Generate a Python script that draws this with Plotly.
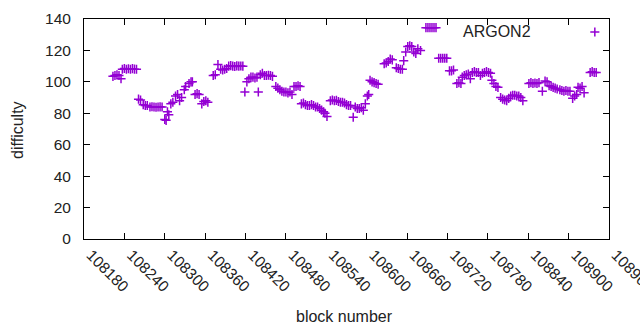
import plotly.graph_objects as go

# block numbers and difficulty values
blocks = [
    108223, 108226, 108229, 108232, 108235,
    108237, 108240, 108243, 108246, 108249, 108252, 108255, 108258,
    108261, 108264,
    108268, 108271, 108274,
    108278, 108281, 108284, 108287, 108290, 108293, 108296,
    108300, 108302, 108304, 108306,
    108309, 108312,
    108316, 108319, 108322, 108325,
    108329, 108331,
    108336, 108339, 108341,
    108345, 108348, 108351,
    108355, 108358, 108361, 108364,
    108372, 108375, 108379,
    108383, 108386, 108389, 108392,
    108395, 108398, 108401, 108404, 108407, 108410, 108413, 108416,
    108419,
    108422, 108425, 108428, 108431, 108434, 108437,
    108439,
    108442, 108445, 108448, 108451, 108454, 108457, 108460,
    108465, 108468, 108471, 108474, 108477, 108480, 108483, 108486, 108489,
    108492, 108495, 108498, 108501,
    108503, 108506, 108509, 108512, 108515, 108518, 108521, 108524, 108527,
    108530, 108533, 108536, 108538, 108541,
    108546, 108549, 108552, 108555, 108558,
    108561, 108564, 108567, 108570, 108573, 108576,
    108580,
    108583, 108586, 108589, 108592, 108595,
    108598, 108601, 108603,
    108605, 108608, 108611, 108614, 108617,
    108626, 108629, 108632, 108635, 108638,
    108644, 108647, 108650, 108653,
    108655,
    108658, 108661, 108664, 108667, 108670, 108673, 108676, 108680,
    108688, 108691, 108694, 108697, 108700, 108703,
    108707, 108710, 108713, 108716, 108719,
    108723, 108726, 108729,
    108734, 108737, 108740,
    108742, 108745, 108748, 108751, 108754,
    108757, 108760, 108763, 108766, 108769, 108772, 108775, 108778, 108781, 108784,
    108786, 108789, 108792, 108795,
    108799, 108802, 108805, 108808, 108811,
    108814, 108817, 108820, 108823, 108826, 108829, 108832,
    108841, 108844, 108847, 108850, 108853, 108856,
    108861,
    108865, 108868,
    108871, 108874, 108877, 108880, 108883,
    108887, 108890, 108893, 108896, 108899, 108902,
    108906, 108909, 108912,
    108914, 108917, 108920,
    108923,
    108932, 108935, 108938, 108941,
]
difficulty = [
    103.5, 104, 104.5, 104, 102,
    108, 108.5, 108, 108.3, 108, 108.4, 108.1, 108,
    89, 88.5,
    85.5, 85, 85,
    84, 84.2, 84, 83.8, 84, 84.1, 84,
    76, 75.5, 81, 79,
    86, 87,
    91, 92, 88, 90,
    95, 97,
    99, 100, 100,
    92, 92.5, 92,
    86, 87.5, 88, 87,
    104, 104.5, 111,
    108, 107.5, 108, 108.5,
    110, 110.3, 110, 109.8, 110.2, 110, 110.1, 110,
    93.5,
    100, 102, 103, 103, 102.5, 103,
    93.5,
    104.5, 105.5, 104, 104, 104.2, 104, 103.5,
    97, 96, 95, 94, 93.5, 93.5, 93, 93.5, 92,
    97, 97, 97.5, 97,
    86, 86.5, 85.5, 85, 85, 85.5, 85, 84, 84,
    83, 82, 81, 80, 78,
    88, 88.5, 88, 88.2, 87.5,
    87, 87, 86.5, 85.5, 85, 85,
    77.5,
    84, 83, 83, 83.5, 82,
    86, 91, 92,
    101, 100, 99.5, 99, 98.5,
    111.5, 112, 113, 114.5, 114,
    109, 108.5, 108, 108,
    113.5,
    119, 122.5, 123, 122.5, 119, 118, 121, 120,
    134.5, 134.5, 134.5, 134.5, 134.5, 134.5,
    115, 115, 115, 115, 115,
    107, 107, 107.5,
    99, 99.5, 99,
    103, 104, 104.5, 105, 102,
    106, 106.5, 106, 106, 104, 105.5, 106, 106.5, 106, 105.5,
    101, 99, 97, 96.5,
    90, 89, 88.5, 88, 89.5,
    91, 91.5, 91.5, 91, 91, 90, 88,
    99, 99.5, 99, 99.3, 99, 99.5,
    94,
    100.5, 100,
    97.5, 97, 96.5, 96, 95.5,
    95, 94.5, 94, 94.5, 94, 94,
    89.5, 91, 92,
    96.5, 96, 97,
    93,
    106, 106.5, 106, 106,
]

x_ticks = [108180 + 60 * i for i in range(14)]
y_ticks = [0, 20, 40, 60, 80, 100, 120, 140]
series_name = "ARGON2"
color = "#9400d3"
font = "Liberation Sans, Arial, sans-serif"
fs = 15.5

marker = dict(symbol="cross-thin", size=6.5, line=dict(width=1.5, color=color), color=color)

fig = go.Figure()
fig.add_trace(go.Scatter(x=blocks, y=difficulty, mode="markers", marker=marker,
                         name=series_name, showlegend=False))
# key sample marker (gnuplot-style key: text then sample)
fig.add_trace(go.Scatter(x=[0.973], y=[0.941], mode="markers", marker=marker,
                         xaxis="x2", yaxis="y2", showlegend=False, hoverinfo="skip"))

axis_common = dict(showline=True, linecolor="black", linewidth=1, mirror="ticks",
                   ticks="inside", ticklen=6, tickcolor="black", tickwidth=1,
                   showgrid=False, zeroline=False, automargin=False,
                   tickfont=dict(family=font, size=fs, color="#222"))

fig.update_layout(
    width=640, height=330,
    margin=dict(l=84, r=31, t=19, b=91),
    paper_bgcolor="white", plot_bgcolor="white",
    xaxis=dict(range=[108180, 108960.01], tickvals=x_ticks,
               ticktext=[str(v) for v in x_ticks], tickangle=45,
               ticklabelshift=7, ticklabeloverflow="allow", **axis_common),
    yaxis=dict(range=[0, 140], tickvals=y_ticks, ticklabelstandoff=9, **axis_common),
    xaxis2=dict(overlaying="x", range=[0, 1], visible=False),
    yaxis2=dict(overlaying="y", range=[0, 1], visible=False),
    annotations=[
        dict(text="block number", xref="paper", yref="paper", x=0.497, y=-0.35,
             showarrow=False, font=dict(family=font, size=16, color="#222"),
             xanchor="center", yanchor="middle"),
        dict(text="difficulty", xref="paper", yref="paper", x=-0.128, y=0.495,
             showarrow=False, textangle=-90, font=dict(family=font, size=16, color="#222"),
             xanchor="center", yanchor="middle"),
        dict(text=series_name, xref="paper", yref="paper", x=(533 - 84) / 525,
             y=0.941, showarrow=False, font=dict(family=font, size=16, color="#222"),
             xanchor="right", yanchor="middle"),
    ],
)

fig.write_html("out.html", post_script="document.body.style.margin='0';",
               config={"displayModeBar": False})
